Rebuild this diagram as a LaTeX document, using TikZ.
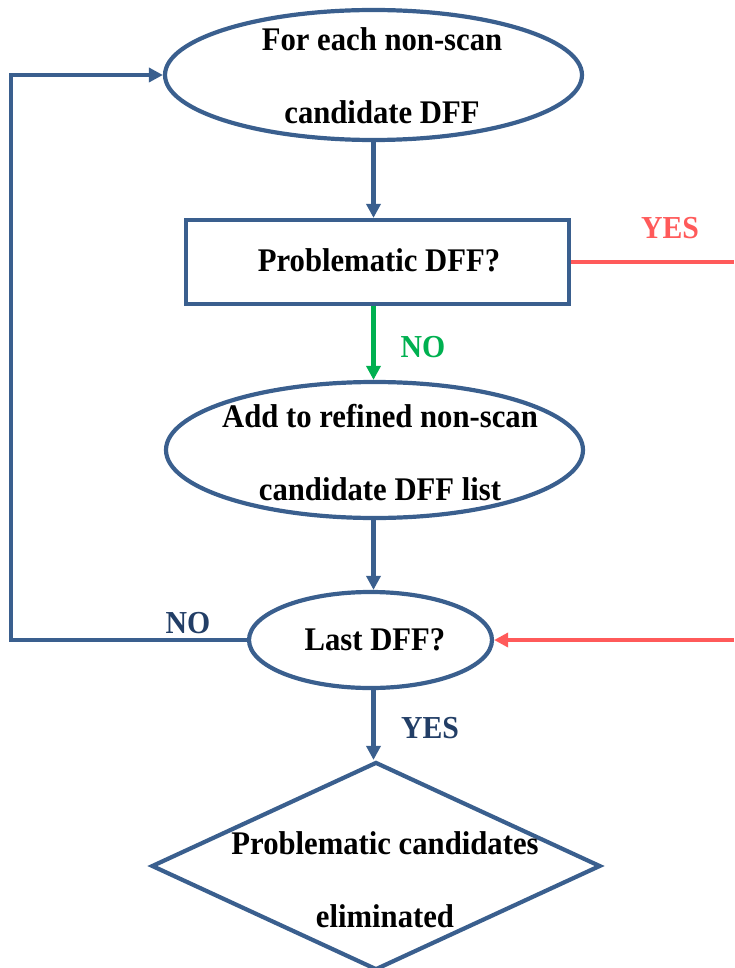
\documentclass[tikz,border=0pt]{standalone}
\usepackage{fontspec}
\setmainfont{Liberation Serif}[FakeStretch=0.93]
\usetikzlibrary{shapes.geometric,arrows.meta}

\definecolor{flowblue}{HTML}{3A5F8E}
\definecolor{labelblue}{HTML}{223E66}
\definecolor{flowred}{HTML}{FF5A5A}
\definecolor{flowgreen}{HTML}{00B050}

\begin{document}
\begin{tikzpicture}[x=1pt,y=-1pt,
  shapeline/.style={draw=flowblue, line width=4.2pt, inner sep=0pt},
  txt/.style={font=\bfseries\fontsize{33}{73}\selectfont, align=center, inner sep=0pt},
  lab/.style={font=\bfseries\fontsize{32}{38}\selectfont, inner sep=0pt},
  tip/.style={-{Triangle[length=14pt,width=14pt]}},
  link/.style={draw=flowblue, line width=4.2pt, tip},
  redline/.style={draw=flowred, line width=4.2pt},
  redlink/.style={redline, tip},
  greenlink/.style={draw=flowgreen, line width=4.2pt, tip}]
\useasboundingbox (0,0) rectangle (734,968);

% shapes of the flow
\node[ellipse, shapeline, minimum width=417, minimum height=130] (start) at (373.5,75) {};
\node[rectangle, shapeline, minimum width=383, minimum height=84] (check) at (377.5,262) {};
\node[ellipse, shapeline, minimum width=417, minimum height=136] (add) at (374.5,450) {};
\node[ellipse, shapeline, minimum width=243, minimum height=96] (last) at (370.5,640) {};
\node[diamond, shapeline, minimum width=449, minimum height=208] (done) at (376,866) {};

% texts inside the shapes
\node[txt] (startT) at (382,76) {For each non-scan\\candidate DFF};
\node[txt] (checkT) at (379,260) {Problematic DFF?};
\node[txt] (addT) at (380,453) {Add to refined non-scan\\candidate DFF list};
\node[txt] (lastT) at (375,640) {Last DFF?};
\node[txt] (doneT) at (385,880) {Problematic candidates\\eliminated};

% free ends of the connectors
\coordinate (rx) at (734,0);
\coordinate (lx) at (11,0);

% connectors, all vertical ones on the axis of the first shape
\draw[link] (start.south) -- (start.south |- check.north);
\draw[greenlink] (start.south |- check.south) -- (start.south |- add.north);
\draw[link] (start.south |- add.south) -- (start.south |- last.north);
\draw[link] (start.south |- last.south) -- (start.south |- done.north);
\draw[redline] (check.east) -- (check.east -| rx);
\draw[redlink] (last.east -| rx) -- (last.east);
\draw[link] (last.west) -- (last.west -| lx) |- (start.west);

% connector labels
\node[lab, text=flowred] (yes1) at (670,228) {YES};
\node[lab, text=flowgreen] (no1) at (423,347) {NO};
\node[lab, text=labelblue] (no2) at (188,623) {NO};
\node[lab, text=labelblue] (yes2) at (430,728) {YES};
\end{tikzpicture}
\end{document}
